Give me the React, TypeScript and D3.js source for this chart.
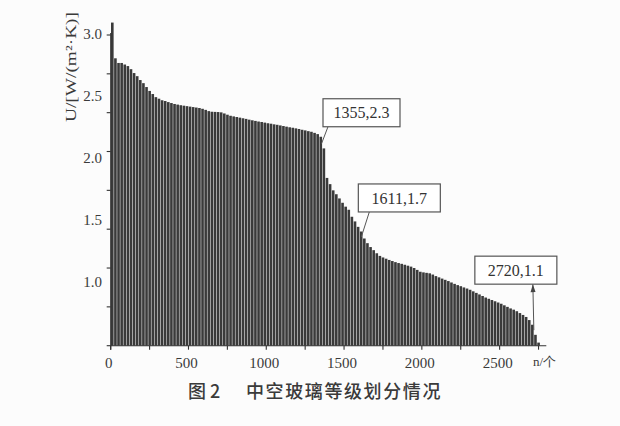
import * as d3 from "d3";

// bin width along n (count of units), one bar per bin
const BIN = 20;

// U values, one per bin of 20 units, starting at n = 0
const uValues = [
  3.08, 2.85, 2.82, 2.82, 2.81, 2.8, 2.78, 2.755, 2.735, 2.71,
  2.69, 2.665, 2.64, 2.62, 2.6, 2.59, 2.58, 2.575, 2.568, 2.562,
  2.556, 2.552, 2.548, 2.545, 2.542, 2.539, 2.536, 2.533, 2.53, 2.525,
  2.518, 2.51, 2.506, 2.505, 2.504, 2.502, 2.495, 2.487, 2.48, 2.476,
  2.472, 2.468, 2.464, 2.46, 2.455, 2.451, 2.447, 2.443, 2.44, 2.436,
  2.432, 2.429, 2.425, 2.422, 2.418, 2.414, 2.41, 2.406, 2.403, 2.399,
  2.395, 2.39, 2.386, 2.381, 2.377, 2.37, 2.362, 2.345, 2.27, 2.08,
  2.04, 2.0, 1.975, 1.948, 1.92, 1.895, 1.875, 1.83, 1.8, 1.765,
  1.735, 1.69, 1.66, 1.635, 1.615, 1.595, 1.578, 1.568, 1.56, 1.552,
  1.545, 1.538, 1.532, 1.527, 1.521, 1.515, 1.509, 1.5, 1.488, 1.476,
  1.472, 1.469, 1.466, 1.458, 1.448, 1.44, 1.432, 1.424, 1.416, 1.407,
  1.398, 1.39, 1.383, 1.375, 1.368, 1.36, 1.35, 1.34, 1.33, 1.32,
  1.31, 1.302, 1.294, 1.286, 1.278, 1.27, 1.26, 1.25, 1.24, 1.232,
  1.222, 1.21, 1.198, 1.185, 1.165, 1.135, 1.07, 1.02,
];

const xTicks = [0, 500, 1000, 1500, 2000, 2500];
const xMinorTicks = [250, 750, 1250, 1750, 2250, 2750];
const yTicks = [1, 1.25, 1.5, 1.75, 2, 2.25, 2.5, 2.75, 3];
const yLabels = [3.0, 2.5, 2.0, 1.5, 1.0];

const noteN = [1355, 1611, 2720];
const noteU = [2.3, 1.7, 1.1];
const noteText = ["1355,2.3", "1611,1.7", "2720,1.1"];
// box placement relative to the pointed point
const noteBox = [
  { dx: 1.5, dy: -45, w: 77, px: 5 },
  { dx: -3, dy: -53, w: 82, px: 11 },
  { dx: -59, dy: -74, w: 82, px: 58 },
];

const W = 620;
const H = 426;
const SERIF = "'Liberation Serif', 'Times New Roman', Times, serif";

export default function App() {
  const x = d3.scaleLinear().domain([0, 2800]).range([110.7, 546.3]);
  const y = d3.scaleLinear().domain([1, 3]).range([345.7, 35]);
  // the printed tick labels sit on their own spacing in the original
  const yLab = d3.scaleLinear().domain([1, 3]).range([282, 34]);

  const ink = "#333";
  const bars = uValues.map((u, i) => ({ n0: i * BIN, n1: (i + 1) * BIN, u }));

  return (
    <svg
      width={W}
      height={H}
      style={{ position: "absolute", left: 0, top: 0, background: "#fcfcfc", fontFamily: SERIF }}
    >
      {/* bars */}
      <g fill="#3a3a3a">
        {bars.map((b, i) => (
          <rect
            key={`bar-${i}`}
            x={x(b.n0) + 0.3}
            y={y(b.u)}
            width={Math.max(0, x(b.n1) - x(b.n0) - 0.5)}
            height={y(1) - y(b.u)}
          />
        ))}
      </g>

      {/* axes */}
      <g stroke={ink} strokeWidth={1.1} fill="none">
        <line x1={x(0)} y1={y(1) + 4} x2={x(0)} y2={y(3) - 2} />
        <line x1={x(0)} y1={y(1)} x2={x(2800)} y2={y(1)} />
        {yTicks.map((t) => (
          <line key={`yt-${t}`} x1={x(0) - 4} y1={y(t)} x2={x(0)} y2={y(t)} />
        ))}
        {xTicks.concat(xMinorTicks).map((t) => (
          <line key={`xt-${t}`} x1={x(t)} y1={y(1)} x2={x(t)} y2={y(1) + 4} />
        ))}
      </g>

      {/* y labels */}
      <g fill="#3a3a3a" fontSize={15} textAnchor="end" style={{ fontFamily: SERIF }}>
        {yLabels.map((l) => (
          <text key={`yl-${l}`} x={102} y={yLab(l)} dy="0.35em">
            {l.toFixed(1)}
          </text>
        ))}
      </g>

      {/* x labels */}
      <g fill="#3a3a3a" fontSize={15} textAnchor="middle" style={{ fontFamily: SERIF }}>
        {xTicks.map((t) => (
          <text key={`xl-${t}`} x={x(t) - 2} y={368}>
            {t}
          </text>
        ))}
      </g>
      <text x={533} y={366} fontSize={13} fill="#3a3a3a" style={{ fontFamily: SERIF }}>
        n/个
      </text>

      {/* y title */}
      <text
        transform="translate(76,67) rotate(-90)"
        textAnchor="middle"
        fontSize={15}
        fill="#3a3a3a"
        textLength={110}
        lengthAdjust="spacingAndGlyphs"
        style={{ fontFamily: SERIF }}
      >
        U/[W/(m²·K)]
      </text>

      {/* annotations */}
      {noteN.map((n, i) => {
        const px = x(n);
        const py = y(noteU[i]);
        const b = noteBox[i];
        const bx = px + b.dx;
        const by = py + b.dy;
        const bh = 28;
        const sx = bx + b.px;
        const sy = by + bh;
        const ang = Math.atan2(sy - py, sx - px);
        return (
          <g key={`note-${i}`}>
            <line x1={sx} y1={sy} x2={px} y2={py} stroke="#555" strokeWidth={1} />
            {i === 2 && (
              <path
                d={`M${sx},${sy} L${sx - 8 * Math.cos(ang) + 2.5 * Math.sin(ang)},${sy - 8 * Math.sin(ang) - 2.5 * Math.cos(ang)} L${sx - 8 * Math.cos(ang) - 2.5 * Math.sin(ang)},${sy - 8 * Math.sin(ang) + 2.5 * Math.cos(ang)} Z`}
                fill="#444"
              />
            )}
            <rect
              x={bx}
              y={by}
              width={b.w}
              height={bh}
              fill="#fff"
              stroke="#555"
              strokeWidth={1.2}
            />
            <text
              x={bx + b.w / 2}
              y={by + bh / 2}
              dy="0.35em"
              textAnchor="middle"
              fontSize={16}
              fill="#333"
              style={{ fontFamily: SERIF }}
            >
              {noteText[i]}
            </text>
          </g>
        );
      })}

      {/* caption */}
      <g
        fontWeight={500}
        fontSize={18}
        fill="#3a3a3a"
        style={{ fontFamily: "'Noto Sans CJK SC', sans-serif" }}
      >
        <text x={188} y={398}>图 2</text>
        <text x={246} y={398} letterSpacing={1.6}>
          中空玻璃等级划分情况
        </text>
      </g>
    </svg>
  );
}
